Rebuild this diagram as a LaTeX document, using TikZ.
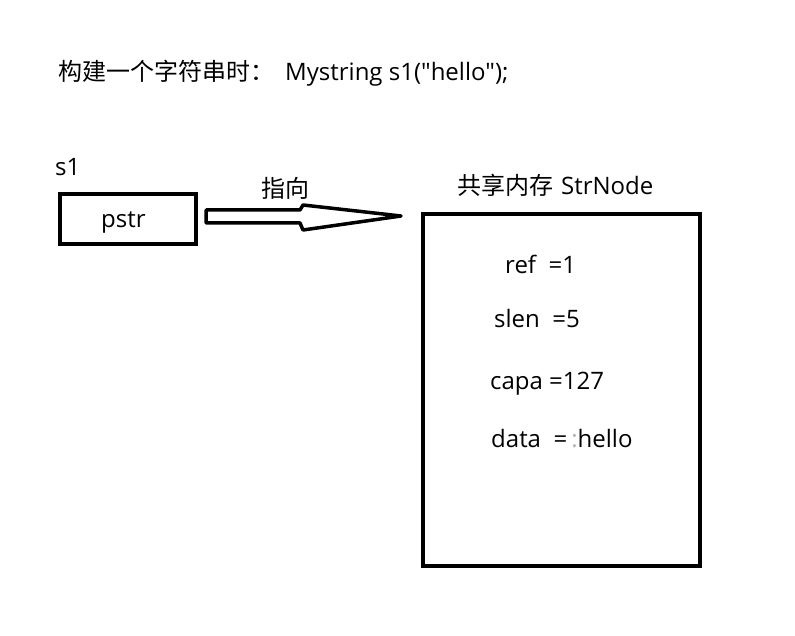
\documentclass[tikz,border=0pt]{standalone}
\usepackage{fontspec}
\setmainfont{Open Sans}[Ligatures=TeXOff]
\newfontfamily\cjk{Noto Sans CJK SC}
\begin{document}
\begin{tikzpicture}[x=1pt,y=-1pt,
  txt/.style={inner sep=0pt,anchor=base west,font=\fontsize{24}{28}\selectfont},
  cjkt/.style={inner sep=0pt,anchor=base west,font=\cjk\fontsize{24}{28}\selectfont},
  boxline/.style={line width=4pt}]
\useasboundingbox (0,0) rectangle (795,636);
\node[cjkt] (title) at (58,81) {构建一个字符串时：};
\node[txt] (code) at (285,81) {Mystring s1("hello");};
\node[txt] (s1) at (55,176) {s1};
\node[draw,boxline,minimum width=136pt,minimum height=50pt,inner sep=0pt] (pstr) at (128,219) {};
\node[txt] (pstrlbl) at (101,228) {pstr};
\node[cjkt] (zx) at (261,198) {指向};
\node[draw,boxline,minimum width=277pt,minimum height=352pt,inner sep=0pt] (mem) at (561.5,390) {};
\node[cjkt] (memlbl) at (457,195) {共享内存};
\node[txt] (strnode) at (561,195) {StrNode};
\node[txt] (ref) at (505,274) {ref\ \ =1};
\node[txt] (slen) at (494,327) {slen\ \ =5};
\node[txt] (capa) at (490,389) {capa =127};
\node[txt] (data) at (491,447) {data\ \ =\,{\color{gray!60}:}hello};
\coordinate (tip) at (mem.west|-0,216);
\draw[line width=3.5pt,line join=round] ([xshift=8pt]pstr.east|-0,210) -- (300,210) -- (303,205) -- ([xshift=-20pt]tip) -- (303,230) -- (300,223) -- ([xshift=8pt]pstr.east|-0,223) -- cycle;
\end{tikzpicture}
\end{document}
